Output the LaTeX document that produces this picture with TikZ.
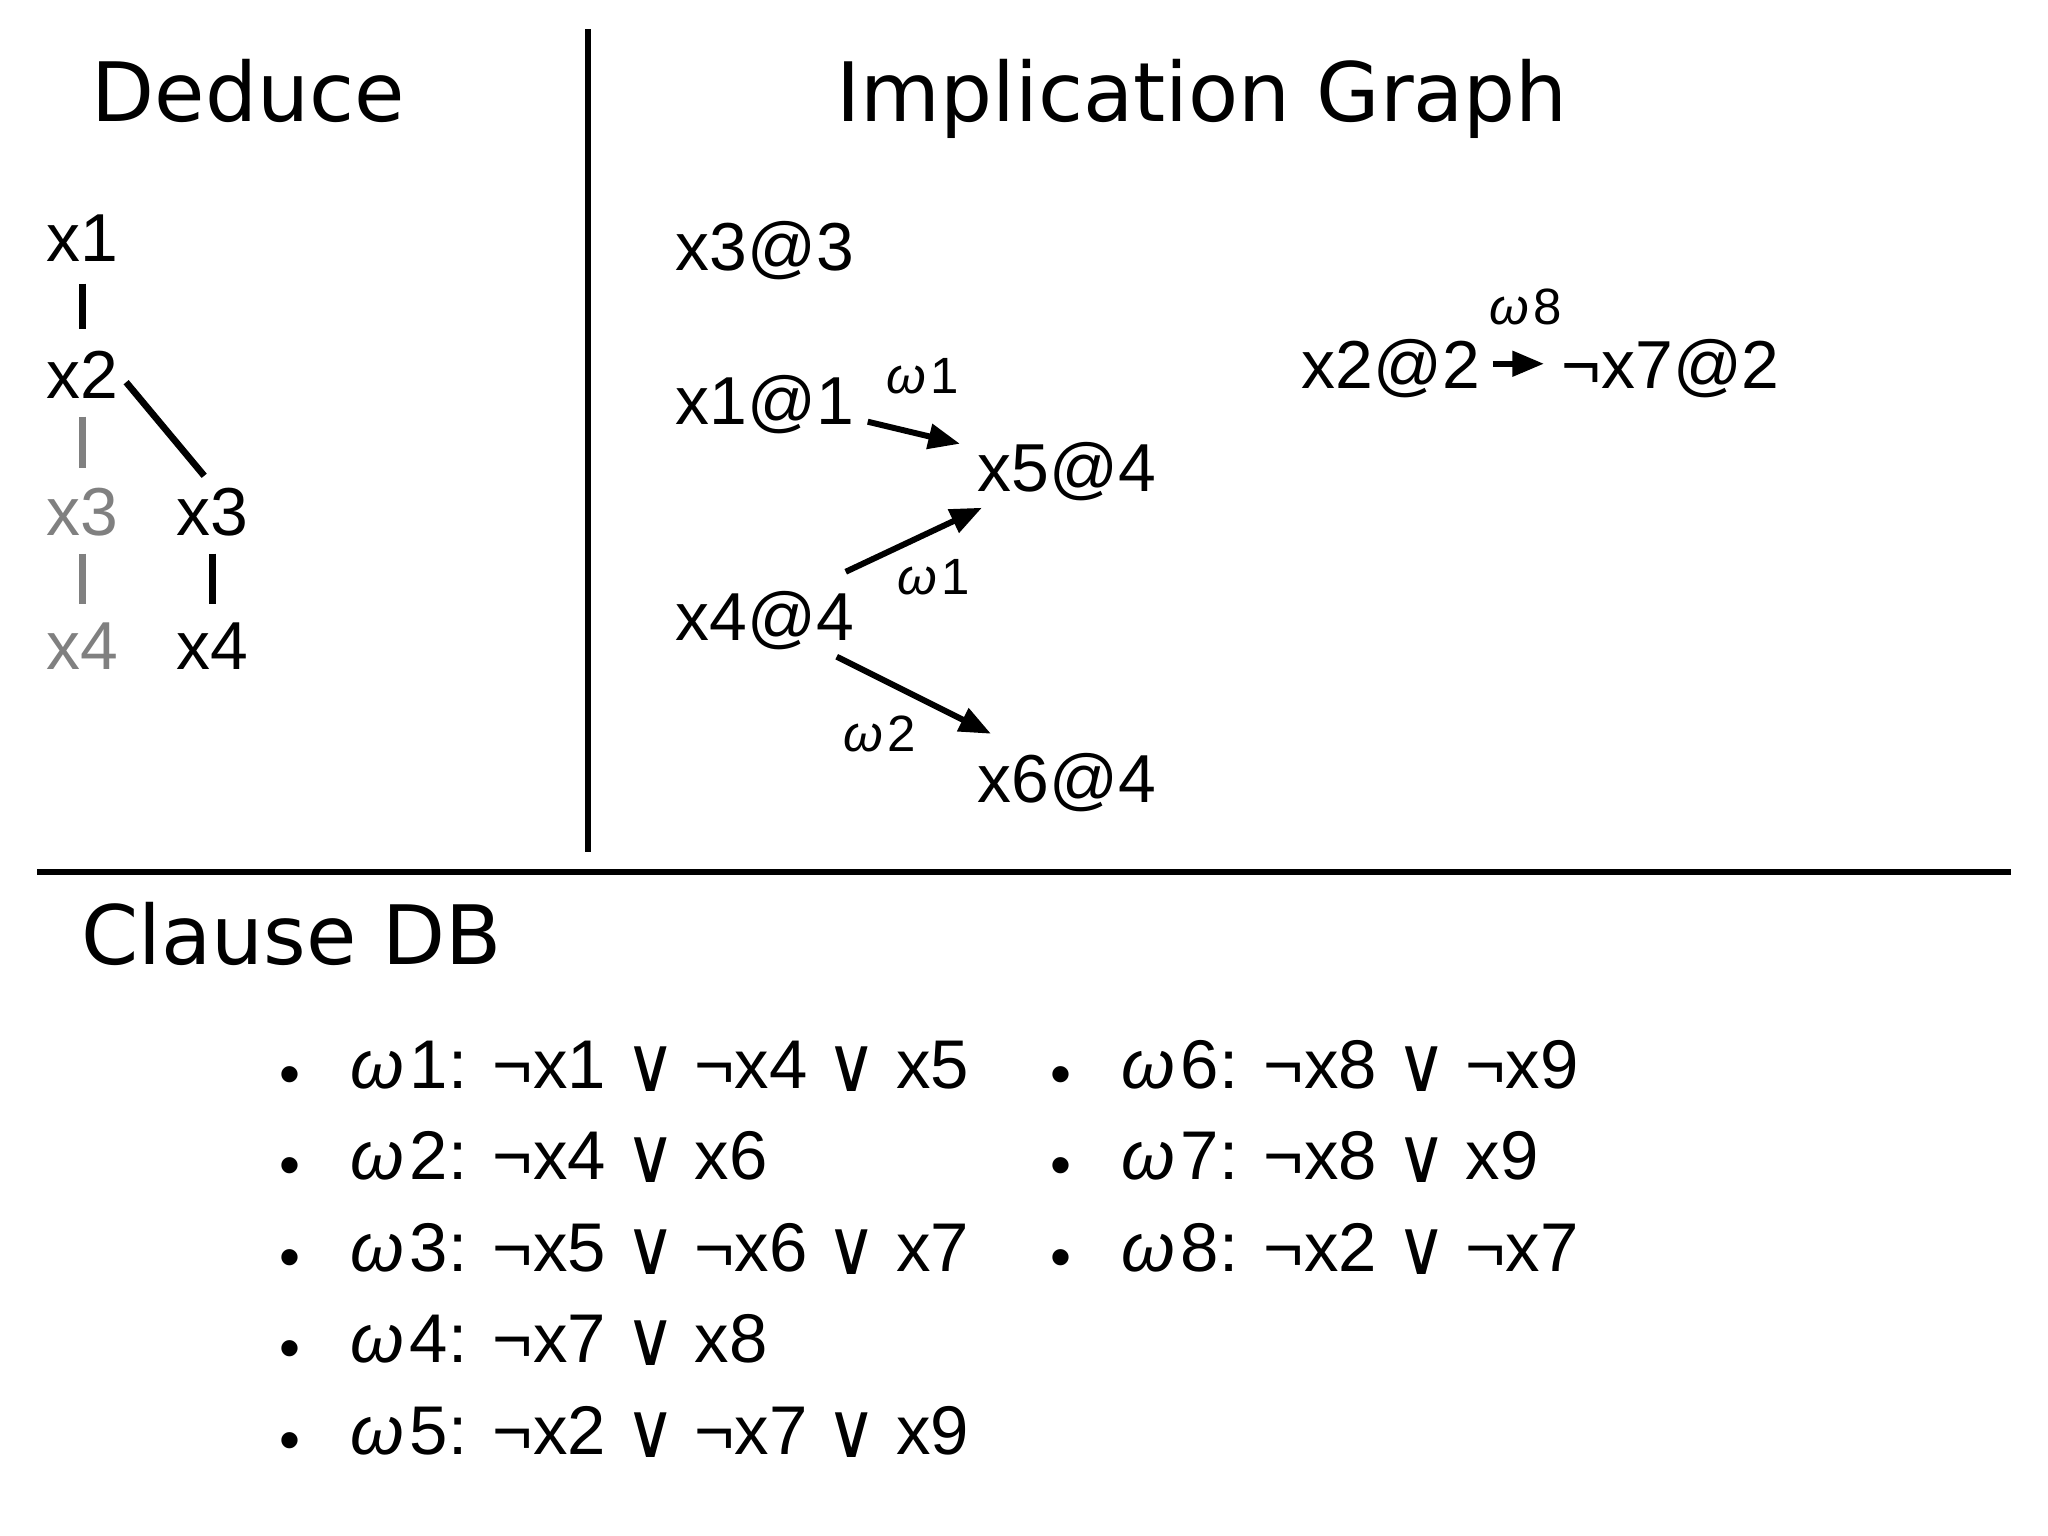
\documentclass[tikz,border=0pt]{standalone}
\usepackage{fontspec}
\usepackage{graphicx}
\setmainfont{Liberation Sans}
\newfontfamily\djvn{DejaVu Sans}
\usetikzlibrary{arrows.meta}
\definecolor{greyc}{HTML}{808080}
\newcommand{\om}{\textit{ω}\kern0.08em}
\newcommand{\myor}{\raisebox{-0.05em}{\scalebox{1}[1.12]{\djvn ∨}}}
\tikzset{
  ttl/.style={font=\djvn\fontsize{23.3}{28}\selectfont, anchor=base west, inner sep=0pt},
  lbl/.style={font=\fontsize{19.3}{23}\selectfont, anchor=base west, inner sep=0pt, text height=13.8pt, text depth=0pt},
  elbl/.style={font=\fontsize{14.5}{17}\selectfont, inner sep=0pt},
  cls/.style={font=\fontsize{19.6}{24}\selectfont, anchor=base west, inner sep=0pt},
  bul/.style={font=\fontsize{17}{20}\selectfont, anchor=base, inner sep=0pt},
  dv/.style={line width=1.8pt},
  tl/.style={line width=1.9pt},
  ar/.style={line width=1.7pt, -{Triangle[length=9pt,width=7pt]}}
}
\begin{document}
\begin{tikzpicture}[x=0.01cm, y=-0.01cm]
\useasboundingbox (0,0) rectangle (2048,1536);
% dividers
\coordinate (vt) at (588,29);
\coordinate (vb) at (588,852);
\coordinate (hl) at (37,872);
\coordinate (hr) at (2011,872);
\draw[dv] (vt) -- (vb);
\draw[dv] (hl) -- (hr);
% titles
\node[ttl] (tded) at (91,121) {Deduce};
\node[ttl] (timp) at (836,121) {Implication Graph};
\node[ttl] (tcl) at (81,964) {Clause DB};
% deduce tree
\node[lbl] (d1) at (46,261) {x1};
\node[lbl] (d2) at (46,398) {x2};
\node[lbl, text=greyc] (d3g) at (46,535) {x3};
\node[lbl] (d3b) at (176,535) {x3};
\node[lbl, text=greyc] (d4g) at (46,669) {x4};
\node[lbl] (d4b) at (176,669) {x4};
\draw[tl, shorten <=0.22cm, shorten >=0.2cm] (d1) -- (d2);
\draw[tl, draw=greyc, shorten <=0.18cm, shorten >=0.18cm] (d2) -- (d3g);
\draw[tl, draw=greyc, shorten <=0.18cm, shorten >=0.16cm] (d3g) -- (d4g);
\draw[tl, shorten <=0.18cm, shorten >=0.16cm] (d3b) -- (d4b);
\draw[tl, shorten <=0.11cm, shorten >=0.13cm] (d2.east) -- (d3b.north);
% implication graph
\node[lbl] (n33) at (675,270) {x3@3};
\node[lbl] (n11) at (675,424) {x1@1};
\node[lbl] (n54) at (977,491) {x5@4};
\node[lbl] (n44) at (675,640) {x4@4};
\node[lbl] (n64) at (977,802) {x6@4};
\node[lbl] (n22) at (1301,388) {x2@2};
\node[lbl] (n72) at (1561,388) {¬x7@2};
\draw[ar] ([shift={(13,-3)}]n11.south east) -- ([shift={(-17,2)}]n54.north west);
\draw[ar] ([shift={(-9,-19)}]n44.north east) -- ([shift={(5,16)}]n54.south west);
\draw[ar] ([shift={(-18,16)}]n44.south east) -- ([shift={(14,-19)}]n64.north west);
\draw[ar, shorten <=0.12cm, shorten >=0.17cm] (n22.east) -- (n72.west);
\node[elbl] (w1a) at (923,376) {\om 1};
\node[elbl] (w1b) at (934,577) {\om 1};
\node[elbl] (w2) at (880,734) {\om 2};
\node[elbl] (w8) at (1526,307) {\om 8};
% clause DB
\node[bul] (b1) at (290,1094) {•};
\node[bul] (b2) at (290,1185) {•};
\node[bul] (b3) at (290,1277) {•};
\node[bul] (b4) at (290,1368) {•};
\node[bul] (b5) at (290,1460) {•};
\node[bul] (b6) at (1061,1094) {•};
\node[bul] (b7) at (1061,1185) {•};
\node[bul] (b8) at (1061,1277) {•};
\node[cls] (c1) at (350,1088) {\om 1: ¬x1 \myor{} ¬x4 \myor{} x5};
\node[cls] (c2) at (350,1179) {\om 2: ¬x4 \myor{} x6};
\node[cls] (c3) at (350,1271) {\om 3: ¬x5 \myor{} ¬x6 \myor{} x7};
\node[cls] (c4) at (350,1362) {\om 4: ¬x7 \myor{} x8};
\node[cls] (c5) at (350,1454) {\om 5: ¬x2 \myor{} ¬x7 \myor{} x9};
\node[cls] (c6) at (1121,1088) {\om 6: ¬x8 \myor{} ¬x9};
\node[cls] (c7) at (1121,1179) {\om 7: ¬x8 \myor{} x9};
\node[cls] (c8) at (1121,1271) {\om 8: ¬x2 \myor{} ¬x7};
\end{tikzpicture}
\end{document}
